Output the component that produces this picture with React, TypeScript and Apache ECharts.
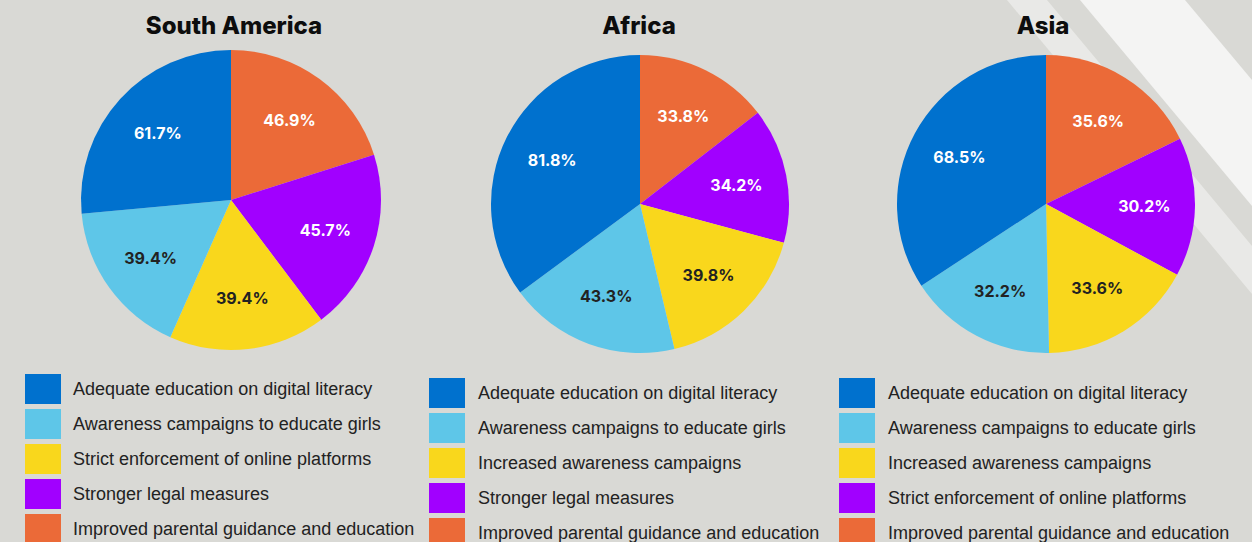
import React, { useEffect, useRef } from "react";
import * as echarts from "echarts";

// ---------- DATA (legend order) ----------
const saTitle = "South America";
const saCategories = [
  "Adequate education on digital literacy",
  "Awareness campaigns to educate girls",
  "Strict enforcement of online platforms",
  "Stronger legal measures",
  "Improved parental guidance and education",
];
const saValues = [61.7, 39.4, 39.4, 45.7, 46.9];

const africaTitle = "Africa";
const africaCategories = [
  "Adequate education on digital literacy",
  "Awareness campaigns to educate girls",
  "Increased awareness campaigns",
  "Stronger legal measures",
  "Improved parental guidance and education",
];
const africaValues = [81.8, 43.3, 39.8, 34.2, 33.8];

const asiaTitle = "Asia";
const asiaCategories = [
  "Adequate education on digital literacy",
  "Awareness campaigns to educate girls",
  "Increased awareness campaigns",
  "Strict enforcement of online platforms",
  "Improved parental guidance and education",
];
const asiaValues = [68.5, 32.2, 33.6, 30.2, 35.6];

// ---------- STYLE ----------
const sliceColors = ["#0071ce", "#5ec6e8", "#f9d71c", "#a100ff", "#eb6a38"];
const labelColors = ["#ffffff", "#222222", "#222222", "#ffffff", "#ffffff"];
const BG = "#d9d9d5";

type Layout = {
  left: number;
  width: number;
  center: [number, number];
  r: number;
  titleX: number;
  legendLeft: number;
  legendTop: number;
  textPad: number;
  stripes?: boolean;
};

const layouts: Layout[] = [
  { left: 0, width: 418, center: [231, 200], r: 150, titleX: 234, legendLeft: 25, legendTop: 374, textPad: 7 },
  { left: 418, width: 418, center: [222, 204], r: 149, titleX: 221, legendLeft: 11, legendTop: 378, textPad: 8 },
  { left: 836, width: 416, center: [210, 204], r: 149, titleX: 207, legendLeft: 3, legendTop: 378, textPad: 8, stripes: true },
];

function PieChart({ title, categories, values, layout }: { title: string; categories: string[]; values: number[]; layout: Layout }) {
  const ref = useRef<HTMLDivElement>(null);
  useEffect(() => {
    if (!ref.current) return;
    const chart = echarts.init(ref.current, undefined, { renderer: "svg" });
    const idx = categories.map((_, i) => i).reverse();
    const mainData = idx.map((i) => ({
      name: categories[i],
      value: values[i],
      itemStyle: { color: sliceColors[i], borderWidth: 0 },
    }));
    const labelData = idx.map((i) => ({
      name: categories[i],
      value: values[i],
      itemStyle: { color: "rgba(0,0,0,0)", borderWidth: 0 },
      label: { color: labelColors[i] },
    }));
    const graphic: any[] = [];
    if (layout.stripes) {
      graphic.push(
        {
          type: "polygon",
          z: -10,
          silent: true,
          shape: { points: [[171, 0], [211, 0], [416, 246], [416, 294]] },
          style: { fill: "#e9e9e7" },
        },
        {
          type: "polygon",
          z: -10,
          silent: true,
          shape: { points: [[244, 0], [349, 0], [416, 80], [416, 206]] },
          style: { fill: "#f4f4f3" },
        }
      );
    }
    graphic.push({
      type: "text",
      z: 100,
      x: layout.titleX,
      y: 25,
      silent: true,
      style: {
        text: title,
        fontFamily: "Inter, 'Noto Sans', sans-serif",
        fontWeight: 800,
        fontSize: 24,
        fill: "#0d0d0d",
        textAlign: "center",
        textVerticalAlign: "middle",
        align: "center",
        verticalAlign: "middle",
      },
    });
    chart.setOption({
      animation: false,
      graphic,
      legend: {
        orient: "vertical",
        left: layout.legendLeft,
        top: layout.legendTop,
        padding: 0,
        icon: "rect",
        itemWidth: 36,
        itemHeight: 30,
        itemGap: 5,
        selectedMode: false,
        data: categories,
        textStyle: {
          fontFamily: "'Liberation Sans', Arial, sans-serif",
          fontSize: 18,
          color: "#222222",
          padding: [0, 0, 0, layout.textPad],
        },
      },
      series: [
        {
          type: "pie",
          center: layout.center,
          radius: [0, layout.r],
          startAngle: 90,
          clockwise: true,
          silent: true,
          avoidLabelOverlap: false,
          label: { show: false },
          labelLine: { show: false },
          emphasis: { disabled: true },
          data: mainData,
        },
        {
          type: "pie",
          center: layout.center,
          radius: [layout.r * 0.28, layout.r],
          startAngle: 90,
          clockwise: true,
          silent: true,
          avoidLabelOverlap: false,
          labelLine: { show: false },
          emphasis: { disabled: true },
          label: {
            show: true,
            position: "inside",
            fontFamily: "Inter, 'Noto Sans', sans-serif",
            fontWeight: 700,
            fontSize: 16,
            formatter: (p: any) => `${Number(p.value).toFixed(1)}%`,
          },
          data: labelData,
        },
      ],
    });
    return () => chart.dispose();
  }, []);
  return (
    <div
      ref={ref}
      style={{ position: "absolute", left: layout.left, top: 0, width: layout.width, height: 640 }}
    />
  );
}

export default function App() {
  return (
    <div style={{ position: "fixed", left: 0, top: 0, width: 1252, height: 542, background: BG, overflow: "hidden" }}>
      <PieChart title={saTitle} categories={saCategories} values={saValues} layout={layouts[0]} />
      <PieChart title={africaTitle} categories={africaCategories} values={africaValues} layout={layouts[1]} />
      <PieChart title={asiaTitle} categories={asiaCategories} values={asiaValues} layout={layouts[2]} />
    </div>
  );
}
